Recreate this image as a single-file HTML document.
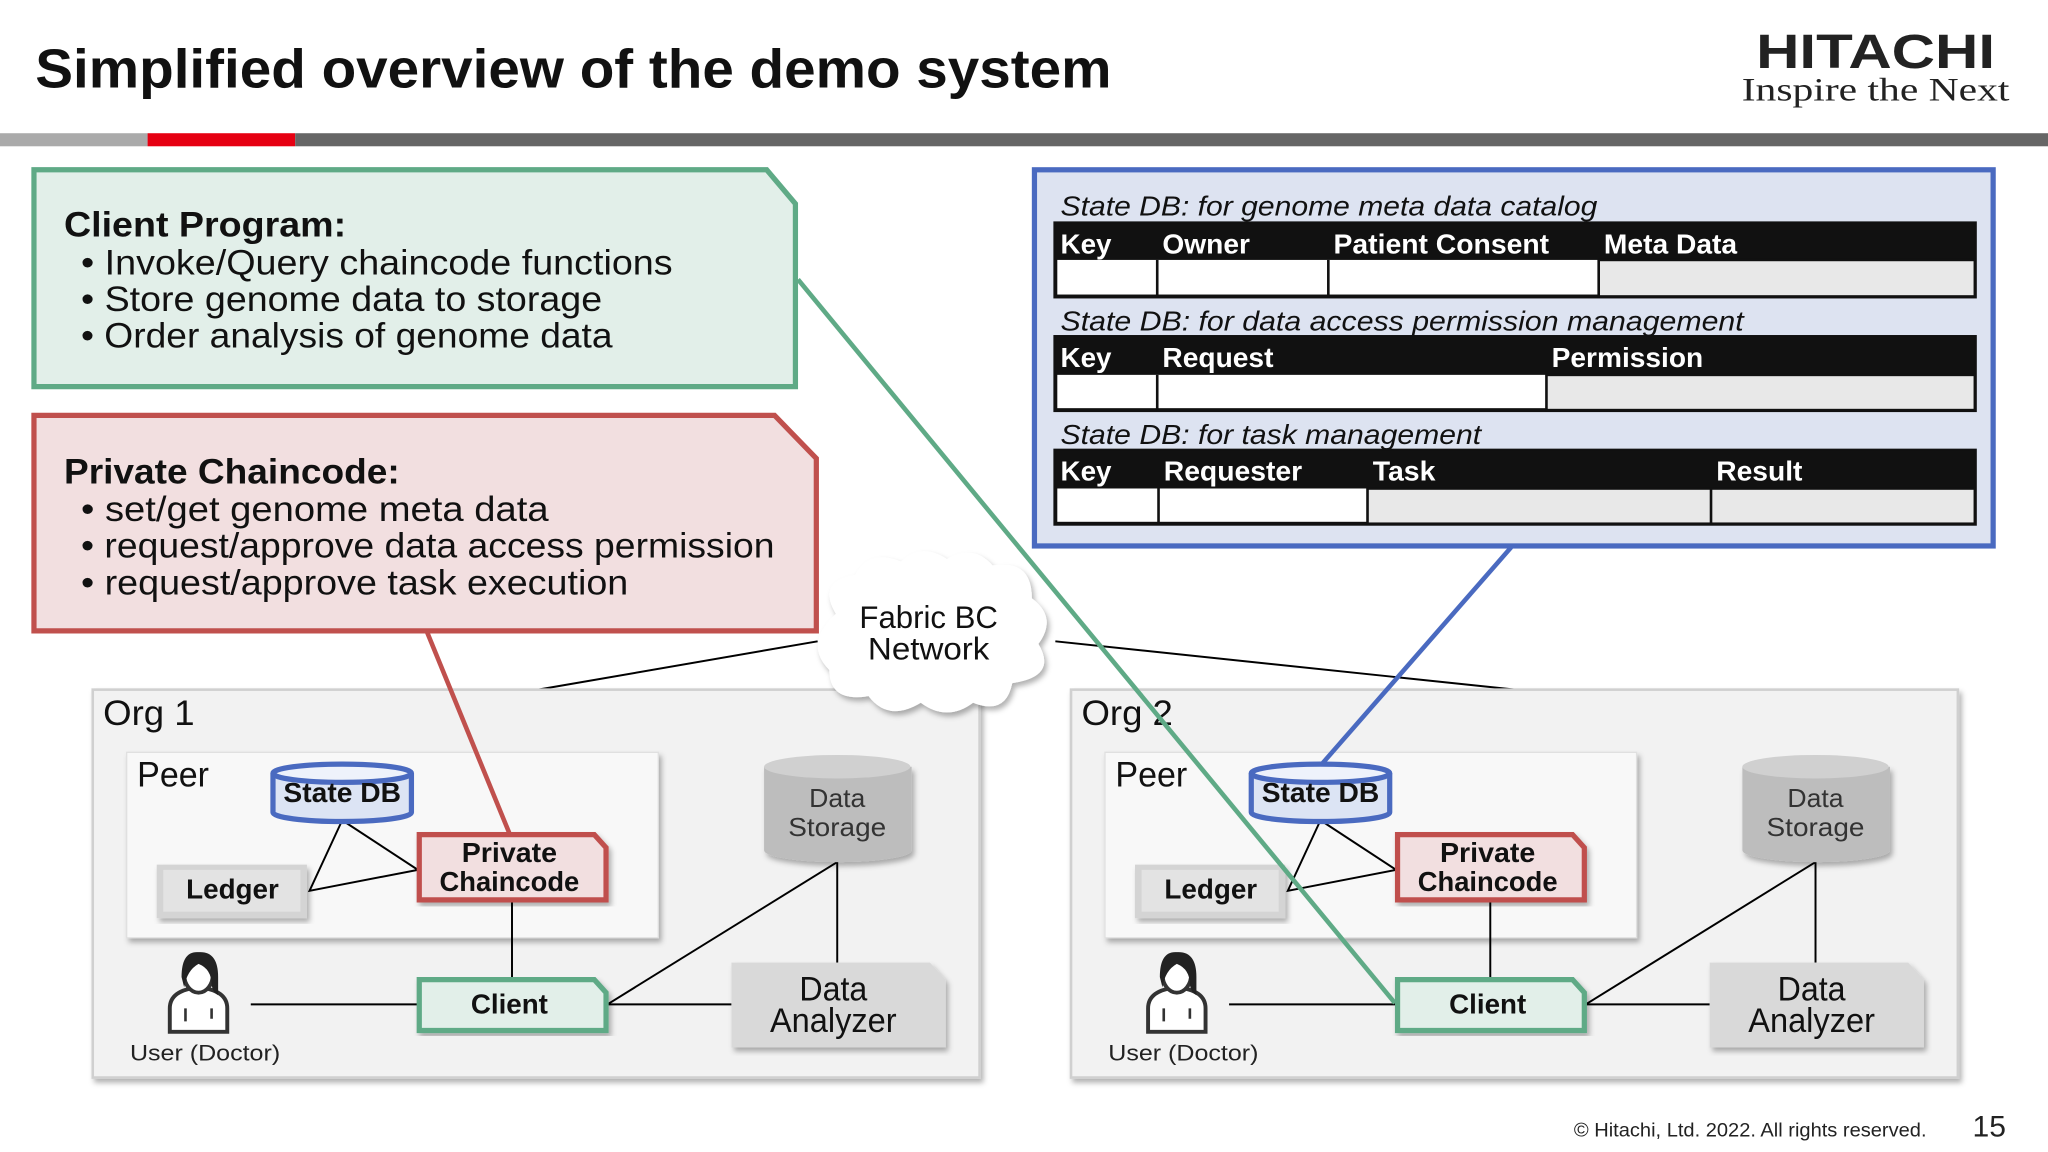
<!DOCTYPE html>
<html><head><meta charset="utf-8"><style>html,body{margin:0;padding:0;background:#fff}svg{display:block}</style></head><body>
<svg width="2048" height="1152" viewBox="0 0 1568 882" xmlns="http://www.w3.org/2000/svg" font-family="Liberation Sans, DejaVu Sans, sans-serif">
<defs>
<filter id="sh" x="-5%" y="-5%" width="112%" height="115%"><feDropShadow dx="2" dy="3" stdDeviation="2" flood-color="#000" flood-opacity="0.3"/></filter>
<g id="org">
  <rect x="71" y="528" width="679" height="297" fill="#f2f2f2" stroke="#d0d0d0" stroke-width="2" filter="url(#sh)"/>
  <rect x="97" y="576" width="407" height="142" fill="#f8f8f8" stroke="#e0e0e0" filter="url(#sh)"/>
  <text x="105" y="602" font-size="27" fill="#111" textLength="55" lengthAdjust="spacingAndGlyphs">Peer</text>
  <polyline points="262,628 237,682 320,666 262,628" fill="none" stroke="#000" stroke-width="1.5"/>
  <line x1="392" y1="690" x2="392" y2="750" stroke="#000" stroke-width="1.5"/>
  <line x1="192" y1="769" x2="320" y2="769" stroke="#000" stroke-width="1.5"/>
  <line x1="465" y1="769" x2="560" y2="769" stroke="#000" stroke-width="1.5"/>
  <line x1="465" y1="769" x2="641" y2="660" stroke="#000" stroke-width="1.5"/>
  <line x1="641" y1="660" x2="641" y2="737" stroke="#000" stroke-width="1.5"/>
  <path d="M209,592 v30 a53,7 0 0 0 106,0 v-30" fill="#dce4f4" stroke="#4a6ac0" stroke-width="4"/>
  <ellipse cx="262" cy="592" rx="53" ry="7" fill="#eef2fb" stroke="#4a6ac0" stroke-width="4"/>
  <text x="262" y="614" font-size="21" font-weight="bold" text-anchor="middle" fill="#111" textLength="90" lengthAdjust="spacingAndGlyphs">State DB</text>
  <rect x="120" y="662" width="115" height="41" fill="#d4d4d4" filter="url(#sh)"/>
  <rect x="125" y="666" width="105" height="32" fill="#e3e3e3"/>
  <text x="178" y="688" font-size="21" font-weight="bold" text-anchor="middle" fill="#111" textLength="71" lengthAdjust="spacingAndGlyphs">Ledger</text>
  <path d="M321,639 H455 L464,649 V689 H321 Z" fill="#f2dfe0" stroke="#c0504d" stroke-width="4" filter="url(#sh)"/>
  <text x="390" y="660" font-size="21" font-weight="bold" text-anchor="middle" fill="#111" textLength="73" lengthAdjust="spacingAndGlyphs">Private</text>
  <text x="390" y="682" font-size="21" font-weight="bold" text-anchor="middle" fill="#111" textLength="107" lengthAdjust="spacingAndGlyphs">Chaincode</text>
  <path d="M321,750 H455 L464,760 V789 H321 Z" fill="#e2efe9" stroke="#5faa86" stroke-width="4" filter="url(#sh)"/>
  <text x="390" y="776" font-size="21" font-weight="bold" text-anchor="middle" fill="#111" textLength="59" lengthAdjust="spacingAndGlyphs">Client</text>
  <path d="M585,587 v64 a56,9 0 0 0 113,0 v-64" fill="#bdbdbd" filter="url(#sh)"/>
  <ellipse cx="641" cy="587" rx="56" ry="9" fill="#d0d0d0"/>
  <text x="641" y="618" font-size="20" text-anchor="middle" fill="#333" textLength="43" lengthAdjust="spacingAndGlyphs">Data</text>
  <text x="641" y="640" font-size="20" text-anchor="middle" fill="#333" textLength="75" lengthAdjust="spacingAndGlyphs">Storage</text>
  <path d="M560,737 H712 L724,750 V802 H560 Z" fill="#d9d9d9" filter="url(#sh)"/>
  <text x="638" y="766" font-size="26" text-anchor="middle" fill="#111" textLength="52" lengthAdjust="spacingAndGlyphs">Data</text>
  <text x="638" y="790" font-size="26" text-anchor="middle" fill="#111" textLength="97" lengthAdjust="spacingAndGlyphs">Analyzer</text>
  <path d="M130,790 v-18 q0,-14 22,-16 q22,2 22,16 v18 z" fill="#fff" stroke="#333" stroke-width="3"/>
  <ellipse cx="152" cy="746" rx="11" ry="14" fill="#fff" stroke="#333" stroke-width="3"/>
  <path d="M139,748 q0,-20 13,-19 q15,-1 15,19 l0,14 q-4,-2 -5,-8 q0,-12 -10,-16 q-9,5 -11,18 z" fill="#222"/>
  <path d="M142,772 v10 M162,772 v8" stroke="#333" stroke-width="2" fill="none"/>
  <text x="157" y="812" font-size="17" text-anchor="middle" fill="#222" textLength="115" lengthAdjust="spacingAndGlyphs">User (Doctor)</text>
</g>
</defs>

<text x="27" y="67" font-size="42" font-weight="bold" fill="#111" textLength="824" lengthAdjust="spacingAndGlyphs">Simplified overview of the demo system</text>
<text x="1436" y="52" font-size="37" font-weight="bold" text-anchor="middle" fill="#222" textLength="183" lengthAdjust="spacingAndGlyphs">HITACHI</text>
<text x="1436" y="77" font-size="25" text-anchor="middle" fill="#222" font-family="Liberation Serif, serif" textLength="205" lengthAdjust="spacingAndGlyphs">Inspire the Next</text>
<rect x="0" y="102" width="113" height="10" fill="#aaaaaa"/>
<rect x="113" y="102" width="113" height="10" fill="#e60012"/>
<rect x="226" y="102" width="1342" height="10" fill="#666"/>

<path d="M26,130 H587 L609,156 V296 H26 Z" fill="#e2efe9" stroke="#5faa86" stroke-width="4"/>
<g font-size="27" fill="#111">
<text x="49" y="181" font-weight="bold" textLength="216" lengthAdjust="spacingAndGlyphs">Client Program:</text>
<text x="62" y="210" textLength="453" lengthAdjust="spacingAndGlyphs">• Invoke/Query chaincode functions</text>
<text x="62" y="238" textLength="399" lengthAdjust="spacingAndGlyphs">• Store genome data to storage</text>
<text x="62" y="266" textLength="407" lengthAdjust="spacingAndGlyphs">• Order analysis of genome data</text>
</g>
<path d="M26,318 H593 L625,351 V483 H26 Z" fill="#f2dfe0" stroke="#c0504d" stroke-width="4"/>
<g font-size="27" fill="#111">
<text x="49" y="370" font-weight="bold" textLength="257" lengthAdjust="spacingAndGlyphs">Private Chaincode:</text>
<text x="62" y="399" textLength="358" lengthAdjust="spacingAndGlyphs">• set/get genome meta data</text>
<text x="62" y="427" textLength="531" lengthAdjust="spacingAndGlyphs">• request/approve data access permission</text>
<text x="62" y="455" textLength="419" lengthAdjust="spacingAndGlyphs">• request/approve task execution</text>
</g>

<rect x="792" y="130" width="734" height="288" fill="#dde3f1" stroke="#4a6ac0" stroke-width="4"/>
<g font-size="21" fill="#111">
<text x="812" y="165" font-style="italic" textLength="411" lengthAdjust="spacingAndGlyphs">State DB: for genome meta data catalog</text>
<rect x="808" y="171" width="704" height="56" fill="#fff" stroke="#111" stroke-width="3"/>
<rect x="808" y="171" width="704" height="28" fill="#111"/>
<rect x="1224" y="199" width="288" height="28" fill="#e8e8e8" stroke="#111" stroke-width="2"/>
<path d="M886,199 V227 M1017,199 V227" stroke="#111" stroke-width="2"/>
<g fill="#fff" font-weight="bold"><text x="812" y="194" textLength="39" lengthAdjust="spacingAndGlyphs">Key</text><text x="890" y="194" textLength="67" lengthAdjust="spacingAndGlyphs">Owner</text><text x="1021" y="194" textLength="165" lengthAdjust="spacingAndGlyphs">Patient Consent</text><text x="1228" y="194" textLength="102" lengthAdjust="spacingAndGlyphs">Meta Data</text></g>

<text x="812" y="253" font-style="italic" textLength="523" lengthAdjust="spacingAndGlyphs">State DB: for data access permission management</text>
<rect x="808" y="258" width="704" height="56" fill="#fff" stroke="#111" stroke-width="3"/>
<rect x="808" y="258" width="704" height="29" fill="#111"/>
<rect x="1184" y="287" width="328" height="27" fill="#e8e8e8" stroke="#111" stroke-width="2"/>
<path d="M886,287 V314" stroke="#111" stroke-width="2"/>
<g fill="#fff" font-weight="bold"><text x="812" y="281" textLength="39" lengthAdjust="spacingAndGlyphs">Key</text><text x="890" y="281" textLength="85" lengthAdjust="spacingAndGlyphs">Request</text><text x="1188" y="281" textLength="116" lengthAdjust="spacingAndGlyphs">Permission</text></g>

<text x="812" y="340" font-style="italic" textLength="322" lengthAdjust="spacingAndGlyphs">State DB: for task management</text>
<rect x="808" y="345" width="704" height="56" fill="#fff" stroke="#111" stroke-width="3"/>
<rect x="808" y="345" width="704" height="29" fill="#111"/>
<rect x="1047" y="374" width="465" height="27" fill="#e8e8e8" stroke="#111" stroke-width="2"/>
<path d="M887,374 V401 M1310,374 V401" stroke="#111" stroke-width="2"/>
<g fill="#fff" font-weight="bold"><text x="812" y="368" textLength="39" lengthAdjust="spacingAndGlyphs">Key</text><text x="891" y="368" textLength="106" lengthAdjust="spacingAndGlyphs">Requester</text><text x="1051" y="368" textLength="48" lengthAdjust="spacingAndGlyphs">Task</text><text x="1314" y="368" textLength="66" lengthAdjust="spacingAndGlyphs">Result</text></g>
</g>

<line x1="626" y1="491" x2="412" y2="528" stroke="#000" stroke-width="1.5"/>
<line x1="808" y1="491" x2="1160" y2="528" stroke="#000" stroke-width="1.5"/>

<use href="#org"/>
<use href="#org" transform="translate(749,0)"/>
<text x="79" y="555" font-size="27" fill="#111" textLength="70" lengthAdjust="spacingAndGlyphs">Org 1</text>
<text x="828" y="555" font-size="27" fill="#111" textLength="70" lengthAdjust="spacingAndGlyphs">Org 2</text>

<g fill="#fff" filter="url(#sh)">
<path d="M640,470 q-15,-25 15,-30 q10,-20 35,-10 q15,-15 35,-2 q20,-12 35,5 q30,-5 30,25 q20,15 5,35 q15,25 -20,30 q-5,25 -30,15 q-20,15 -40,0 q-25,15 -40,-5 q-30,5 -30,-20 q-20,-20 5,-43 z"/>
</g>
<text x="711" y="481" font-size="24" text-anchor="middle" fill="#111" textLength="106" lengthAdjust="spacingAndGlyphs">Fabric BC</text>
<text x="711" y="505" font-size="24" text-anchor="middle" fill="#111" textLength="93" lengthAdjust="spacingAndGlyphs">Network</text>

<line x1="327" y1="484" x2="390" y2="638" stroke="#c0504d" stroke-width="3.5"/>
<line x1="611" y1="214" x2="1068" y2="768" stroke="#5faa86" stroke-width="3.5"/>
<line x1="1157" y1="419" x2="1012" y2="585" stroke="#4a6ac0" stroke-width="3.5"/>

<text x="1475" y="870" font-size="15" text-anchor="end" fill="#222" textLength="270" lengthAdjust="spacingAndGlyphs">© Hitachi, Ltd. 2022. All rights reserved.</text>
<text x="1523" y="870" font-size="23" text-anchor="middle" fill="#222">15</text>
</svg>
</body></html>
